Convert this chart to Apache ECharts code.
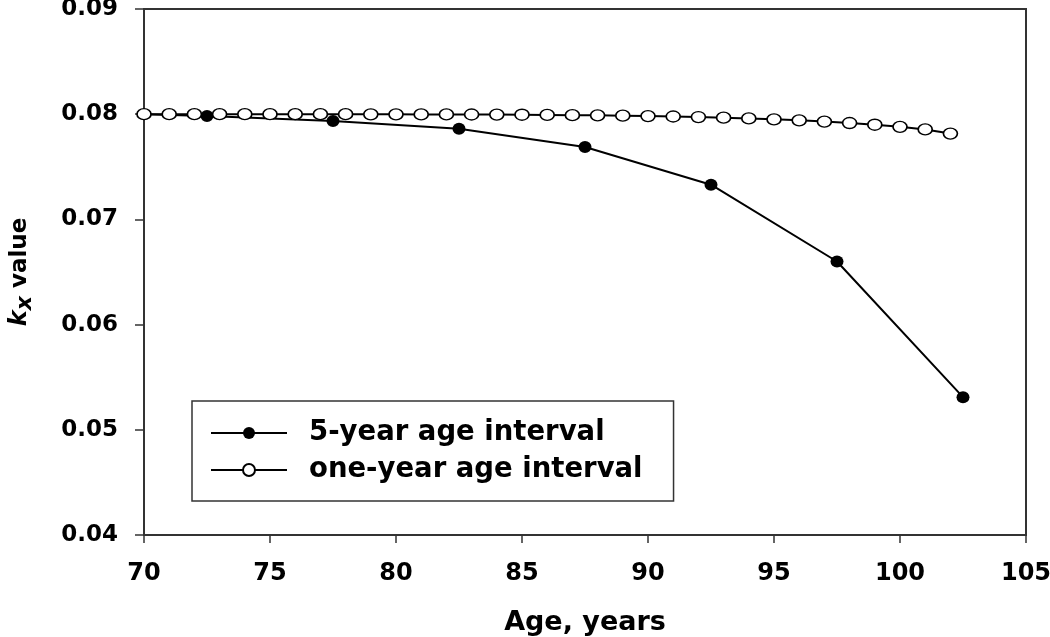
<!DOCTYPE html>
<html>
<head>
<meta charset="utf-8">
<script src="https://cdn.jsdelivr.net/npm/echarts@6/dist/echarts.min.js"></script>
<style>
html,body{margin:0;padding:0;background:#fff;}
#chart{width:1050px;height:637px;}
</style>
</head>
<body>
<div id="chart"></div>
<script>
// 5-year age interval (age midpoints)
const fiveYearAges = [70, 72.5, 77.5, 82.5, 87.5, 92.5, 97.5, 102.5];
const fiveYearValues = [0.0800, 0.07983, 0.07936, 0.07862, 0.07688, 0.07330, 0.06600, 0.05310];

// one-year age interval
const oneYearAges = [70,71,72,73,74,75,76,77,78,79,80,81,82,83,84,85,86,87,88,89,90,91,92,93,94,95,96,97,98,99,100,101,102];
const oneYearValues = [0.08000,0.08000,0.08000,0.08000,0.08000,0.08000,0.08000,0.08000,0.08000,0.07999,0.07999,0.07998,0.07998,0.07997,0.07996,0.07995,0.07993,0.07991,0.07989,0.07986,0.07982,0.07978,0.07973,0.07967,0.07960,0.07951,0.07942,0.07930,0.07916,0.07900,0.07880,0.07855,0.07816];

const seriesNames = ['5-year age interval', 'one-year age interval'];
const xTicks = {min: 70, max: 105, interval: 5};
const yTicks = {min: 0.04, max: 0.09, interval: 0.01};

const FONT = 'DejaVu Sans';

const chart = echarts.init(document.getElementById('chart'), null, {renderer: 'canvas'});
chart.setOption({
  backgroundColor: '#fff',
  animation: false,
  grid: {left: 144, right: 24, top: 9, bottom: 102, containLabel: false, outerBoundsMode: 'none',
    show: true, borderColor: '#333', borderWidth: 2, backgroundColor: 'transparent'},
  xAxis: {
    type: 'value', min: xTicks.min, max: xTicks.max, interval: xTicks.interval,
    name: 'Age, years', nameLocation: 'middle', nameGap: 74,
    nameTextStyle: {fontFamily: FONT, fontWeight: 'bold', fontSize: 27, color: '#000'},
    axisLine: {show: true, lineStyle: {color: '#333', width: 2}},
    axisTick: {show: true, length: 8, lineStyle: {color: '#333', width: 1.5}},
    axisLabel: {fontFamily: FONT, fontWeight: 'bold', fontSize: 24, color: '#000', margin: 27},
    splitLine: {show: false}
  },
  yAxis: {
    type: 'value', min: yTicks.min, max: yTicks.max, interval: yTicks.interval,
    name: '{k|k}{x|x}{v| value}', nameLocation: 'middle', nameGap: 108, nameRotate: 90,
    nameTextStyle: {
      color: '#000',
      rich: {
        k: {fontFamily: FONT, fontWeight: 'bold', fontStyle: 'italic', fontSize: 24, color: '#000'},
        x: {fontFamily: FONT, fontWeight: 'bold', fontStyle: 'italic', fontSize: 22, color: '#000', padding: [10, 0, 0, 0]},
        v: {fontFamily: FONT, fontWeight: 'bold', fontSize: 23, color: '#000'}
      }
    },
    axisLine: {show: true, lineStyle: {color: '#333', width: 2}},
    axisTick: {show: true, length: 9, lineStyle: {color: '#333', width: 1.5}},
    axisLabel: {fontFamily: FONT, fontWeight: 'bold', fontSize: 23, color: '#000', margin: 26,
      formatter: v => v.toFixed(2)},
    splitLine: {show: false}
  },
  legend: {
    orient: 'vertical', left: 192, top: 401,
    data: seriesNames,
    padding: [18, 31, 17, 18],
    itemGap: 9,
    itemWidth: 76, itemHeight: 15,
    borderColor: '#333', borderWidth: 1.5,
    backgroundColor: '#fff',
    textStyle: {fontFamily: FONT, fontWeight: 'bold', fontSize: 27.5, color: '#000', padding: [0, 0, 0, 17]}
  },
  series: [
    {
      name: seriesNames[0], type: 'line',
      data: fiveYearAges.map((a, i) => [a, fiveYearValues[i]]),
      symbol: 'circle',
      symbolSize: (v, p) => p.dataIndex === 0 ? 0 : [13, 12],
      showAllSymbol: true,
      lineStyle: {color: '#000', width: 2},
      itemStyle: {color: '#000', borderColor: '#000', borderWidth: 0},
      z: 2
    },
    {
      name: seriesNames[1], type: 'line',
      data: oneYearAges.map((a, i) => [a, oneYearValues[i]]),
      symbol: 'circle', symbolSize: [14, 11],
      showAllSymbol: true,
      lineStyle: {color: '#000', width: 2},
      itemStyle: {color: '#fff', borderColor: '#000', borderWidth: 1.5},
      z: 3
    }
  ]
});
</script>
</body>
</html>
